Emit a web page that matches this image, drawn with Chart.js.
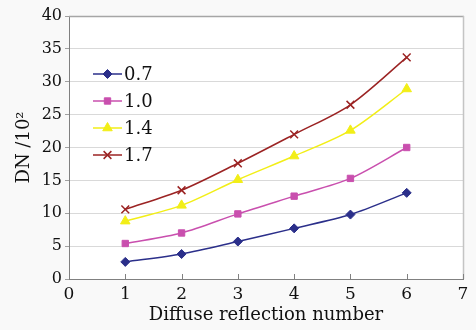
<!DOCTYPE html>
<html>
<head>
<meta charset="utf-8">
<script src="https://cdn.jsdelivr.net/npm/chart.js@4/dist/chart.umd.min.js"></script>
<style>
  html, body { margin: 0; padding: 0; background: #f9f9f9; }
  #wrap { width: 476px; height: 330px; position: relative; }
</style>
</head>
<body>
<div id="wrap"><canvas id="c" width="476" height="330"></canvas></div>
<script>
const xValues = [1, 2, 3, 4, 5, 6];
const seriesLabels = ['0.7', '1.0', '1.4', '1.7'];
const series07 = [2.6, 3.8, 5.7, 7.7, 9.8, 13.1];
const series10 = [5.4, 7.0, 9.9, 12.6, 15.3, 20.0];
const series14 = [8.8, 11.2, 15.1, 18.7, 22.6, 28.9];
const series17 = [10.6, 13.5, 17.6, 22.0, 26.5, 33.7];
const xTicks = [0, 1, 2, 3, 4, 5, 6, 7];
const yTicks = [0, 5, 10, 15, 20, 25, 30, 35, 40];

const FONT = "'DejaVu Serif', serif";
const TEXT = '#111111';
const colors = ['#2b2f8a', '#c94fae', '#f2ee17', '#9b2323'];
const styles = ['rectRot', 'rect', 'triangle', 'crossRot'];
const radii = [4.5, 4.5, 5.5, 5.5];
const allSeries = [series07, series10, series14, series17];

const datasets = allSeries.map((s, i) => ({
  label: seriesLabels[i],
  data: s.map((v, j) => ({ x: xValues[j], y: v })),
  borderColor: colors[i],
  backgroundColor: colors[i],
  borderWidth: 1.5,
  pointStyle: styles[i],
  pointRadius: radii[i],
  pointBorderWidth: i === 3 ? 1.5 : 1,
  pointBorderColor: colors[i],
  pointBackgroundColor: colors[i],
  tension: 0.3,
  fill: false
}));

const bgPlugin = {
  id: 'bg',
  beforeDraw(chart) {
    const { ctx, chartArea: a } = chart;
    ctx.save();
    ctx.fillStyle = '#f9f9f9';
    ctx.fillRect(0, 0, chart.width, chart.height);
    ctx.fillStyle = '#ffffff';
    ctx.fillRect(a.left, a.top, a.right - a.left, a.bottom - a.top);
    ctx.restore();
  }
};

const framePlugin = {
  id: 'frame',
  afterDraw(chart) {
    const { ctx, chartArea: a, scales } = chart;
    ctx.save();
    ctx.strokeStyle = '#a6a6a6';
    ctx.lineWidth = 1.5;
    ctx.beginPath();
    ctx.moveTo(a.left, a.top + 0.5);
    ctx.lineTo(a.right + 1, a.top + 0.5);
    ctx.stroke();
    ctx.strokeStyle = '#c4c4c4';
    ctx.lineWidth = 1.5;
    ctx.beginPath();
    ctx.moveTo(a.right + 0.5, a.top);
    ctx.lineTo(a.right + 0.5, a.bottom);
    ctx.stroke();
    ctx.strokeStyle = '#808080';
    ctx.lineWidth = 1;
    scales.x.ticks.forEach(t => {
      const px = Math.round(scales.x.getPixelForValue(t.value)) + 0.5;
      ctx.beginPath();
      ctx.moveTo(px, a.bottom);
      ctx.lineTo(px, a.bottom - 5);
      ctx.stroke();
    });
    ctx.restore();
  }
};

const legendPlugin = {
  id: 'innerLegend',
  afterDatasetsDraw(chart) {
    const { ctx } = chart;
    const x0 = 93, x1 = 122, y0 = 74, dy = 27;
    ctx.save();
    chart.data.datasets.forEach((ds, i) => {
      const y = y0 + i * dy;
      ctx.strokeStyle = ds.borderColor;
      ctx.lineWidth = 1.5;
      ctx.beginPath();
      ctx.moveTo(x0, y);
      ctx.lineTo(x1, y);
      ctx.stroke();
      ctx.fillStyle = ds.backgroundColor;
      ctx.strokeStyle = ds.borderColor;
      ctx.lineWidth = ds.pointBorderWidth;
      Chart.helpers.drawPoint(ctx, {
        pointStyle: ds.pointStyle,
        radius: ds.pointRadius,
        rotation: 0,
        borderWidth: ds.pointBorderWidth
      }, (x0 + x1) / 2, y);
      ctx.fillStyle = TEXT;
      ctx.font = "18px " + FONT;
      ctx.textBaseline = 'middle';
      ctx.textAlign = 'left';
      ctx.fillText(ds.label, x1 + 2, y + 1);
    });
    ctx.restore();
  }
};

new Chart(document.getElementById('c'), {
  type: 'line',
  data: { datasets },
  plugins: [bgPlugin, framePlugin, legendPlugin],
  options: {
    responsive: false,
    animation: false,
    layout: { padding: { top: 16, right: 13, left: 0, bottom: 0 } },
    plugins: { legend: { display: false }, tooltip: { enabled: false } },
    scales: {
      x: {
        type: 'linear',
        min: 0, max: 7,
        afterBuildTicks(scale) { scale.ticks = xTicks.map(v => ({ value: v })); },
        afterFit(scale) { scale.height = 51; },
        grid: { display: true, drawOnChartArea: false, drawTicks: false, color: '#808080' },
        border: { display: true, color: '#808080', width: 1 },
        ticks: { font: { family: FONT, size: 17 }, color: TEXT, padding: 5, maxRotation: 0 },
        title: { display: true, text: 'Diffuse reflection number', font: { family: FONT, size: 18 }, color: TEXT, padding: { top: 0, bottom: 4 } }
      },
      y: {
        min: 0, max: 40,
        afterBuildTicks(scale) { scale.ticks = yTicks.map(v => ({ value: v })); },
        afterFit(scale) { scale.width = 69; },
        grid: { color: '#d9d9d9', lineWidth: 1, tickLength: 4, tickColor: '#a0a0a0' },
        border: { display: true, color: '#808080', width: 1 },
        ticks: { font: { family: FONT, size: 16 }, color: TEXT, padding: 3 },
        title: { display: true, text: 'DN /10²', font: { family: FONT, size: 18 }, color: TEXT, padding: { top: 14, bottom: 0 } }
      }
    }
  }
});
</script>
</body>
</html>
